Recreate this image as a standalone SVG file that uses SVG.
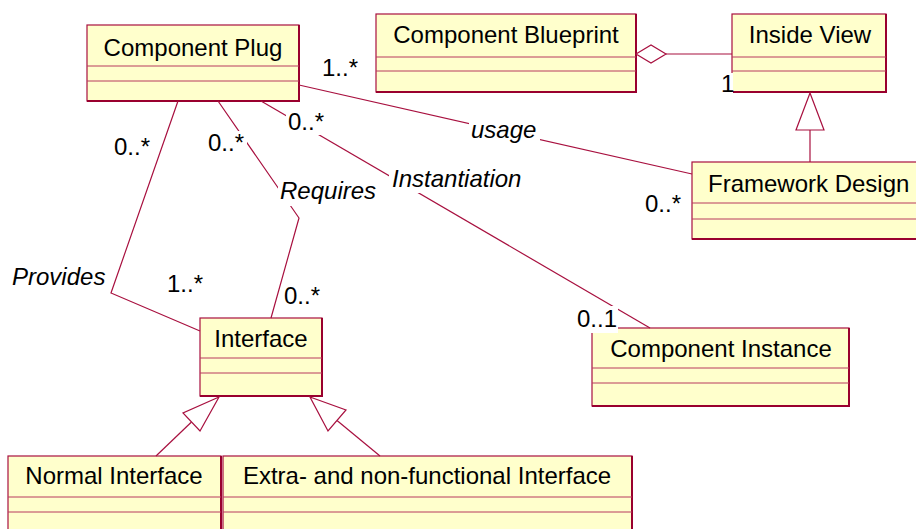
<svg xmlns="http://www.w3.org/2000/svg" width="916" height="529" viewBox="0 0 916 529">
  <style>
    .box { fill: #FFFFCC; stroke: #A8103F; stroke-width: 1.2; }
    .edge { fill: none; stroke: #99002E; stroke-width: 2; }
    .div { stroke: #B83A5E; stroke-width: 1; }
    .name { font-family: "Liberation Sans", Arial, sans-serif; font-size: 24px; fill: #000; }
    .lbl { font-family: "Liberation Sans", Arial, sans-serif; font-size: 24px; fill: #000; }
    .it { font-style: italic; }
    .conn { fill: none; stroke: #A8103F; stroke-width: 1.2; }
    .head { fill: #FFFFFF; stroke: #A8103F; stroke-width: 1.2; }
    .bg { fill: #FFFFFF; }
  </style>

  <!-- classes -->
  <g id="component-plug">
    <rect class="box" x="87" y="25" width="212" height="76"/>
    <polyline class="edge" points="299,25 299,101 87,101"/>
    <line class="div" x1="87" y1="66" x2="299" y2="66"/>
    <line class="div" x1="87" y1="81" x2="299" y2="81"/>
    <text class="name" x="193" y="56" text-anchor="middle">Component Plug</text>
  </g>

  <g id="component-blueprint">
    <rect class="box" x="376" y="14" width="260" height="78"/>
    <polyline class="edge" points="636,14 636,92 376,92"/>
    <line class="div" x1="376" y1="57" x2="636" y2="57"/>
    <line class="div" x1="376" y1="71" x2="636" y2="71"/>
    <text class="name" x="506" y="43" text-anchor="middle">Component Blueprint</text>
  </g>

  <g id="inside-view">
    <rect class="box" x="732" y="14" width="154" height="78"/>
    <polyline class="edge" points="886,14 886,92 732,92"/>
    <line class="div" x1="732" y1="57" x2="886" y2="57"/>
    <line class="div" x1="732" y1="71" x2="886" y2="71"/>
    <text class="name" x="810" y="43" text-anchor="middle">Inside View</text>
  </g>

  <g id="framework-design">
    <rect class="box" x="692" y="162" width="250" height="77"/>
    <polyline class="edge" points="942,239 692,239"/>
    <line class="div" x1="692" y1="203" x2="942" y2="203"/>
    <line class="div" x1="692" y1="219" x2="942" y2="219"/>
    <text class="name" x="708" y="192">Framework Design</text>
  </g>

  <g id="interface">
    <rect class="box" x="200" y="318" width="122" height="78"/>
    <polyline class="edge" points="322,318 322,396 200,396"/>
    <line class="div" x1="200" y1="358" x2="322" y2="358"/>
    <line class="div" x1="200" y1="373" x2="322" y2="373"/>
    <text class="name" x="261" y="347" text-anchor="middle">Interface</text>
  </g>

  <g id="component-instance">
    <rect class="box" x="592" y="328" width="257" height="78"/>
    <polyline class="edge" points="849,328 849,406 592,406"/>
    <line class="div" x1="592" y1="368" x2="849" y2="368"/>
    <line class="div" x1="592" y1="383" x2="849" y2="383"/>
    <text class="name" x="721" y="357" text-anchor="middle">Component Instance</text>
  </g>

  <g id="normal-interface">
    <rect class="box" x="8" y="456" width="213" height="78"/>
    <polyline class="edge" points="221,456 221,534"/>
    <line class="div" x1="8" y1="497" x2="221" y2="497"/>
    <line class="div" x1="8" y1="512" x2="221" y2="512"/>
    <text class="name" x="114" y="484" text-anchor="middle">Normal Interface</text>
  </g>

  <g id="extra-interface">
    <rect class="box" x="223" y="456" width="409" height="78"/>
    <polyline class="edge" points="632,456 632,534"/>
    <line class="div" x1="223" y1="497" x2="632" y2="497"/>
    <line class="div" x1="223" y1="512" x2="632" y2="512"/>
    <text class="name" x="427" y="484" text-anchor="middle">Extra- and non-functional Interface</text>
  </g>

  <!-- associations, aggregation and generalizations -->
  <g id="connectors">
    <polyline class="conn" points="178,101 111,293 200,331"/>
    <polyline class="conn" points="218,101 299,218 271,318"/>
    <line class="conn" x1="261" y1="101" x2="650" y2="328"/>
    <line class="conn" x1="299" y1="85" x2="692" y2="174"/>
    <line class="conn" x1="666" y1="54" x2="732" y2="54"/>
    <polygon class="head" points="636,54 651,45 666,54 651,63"/>
    <line class="conn" x1="810" y1="130" x2="810" y2="162"/>
    <polygon class="head" points="810,93 796,130 824,130"/>
    <line class="conn" x1="191.5" y1="422" x2="156" y2="456"/>
    <polygon class="head" points="219,397 183,413 200,431"/>
    <line class="conn" x1="337" y1="420.5" x2="380" y2="456"/>
    <polygon class="head" points="310,397 346,410 328,431"/>
  </g>

  <!-- role names and multiplicities -->
  <g id="labels">
    <text class="lbl" x="322" y="76">1..*</text>
    <text class="lbl" x="114" y="155">0..*</text>
    <text class="lbl it" x="12" y="285">Provides</text>
    <text class="lbl" x="167" y="292">1..*</text>
    <rect class="bg" x="206" y="131" width="41" height="23"/>
    <text class="lbl" x="208" y="151">0..*</text>
    <rect class="bg" x="278" y="179" width="99" height="27"/>
    <text class="lbl it" x="280" y="199">Requires</text>
    <text class="lbl" x="284" y="304">0..*</text>
    <rect class="bg" x="286" y="111" width="41" height="24"/>
    <text class="lbl" x="288" y="130">0..*</text>
    <rect class="bg" x="389" y="166" width="137" height="27"/>
    <text class="lbl it" x="392" y="187">Instantiation</text>
    <rect class="bg" x="575" y="306" width="43" height="27"/>
    <text class="lbl" x="577" y="327">0..1</text>
    <rect class="bg" x="469" y="120" width="71" height="25"/>
    <text class="lbl it" x="471" y="138">usage</text>
    <text class="lbl" x="645" y="212">0..*</text>
    <rect class="bg" x="720" y="73" width="13" height="21"/>
    <text class="lbl" x="721" y="92">1</text>
  </g>
</svg>
